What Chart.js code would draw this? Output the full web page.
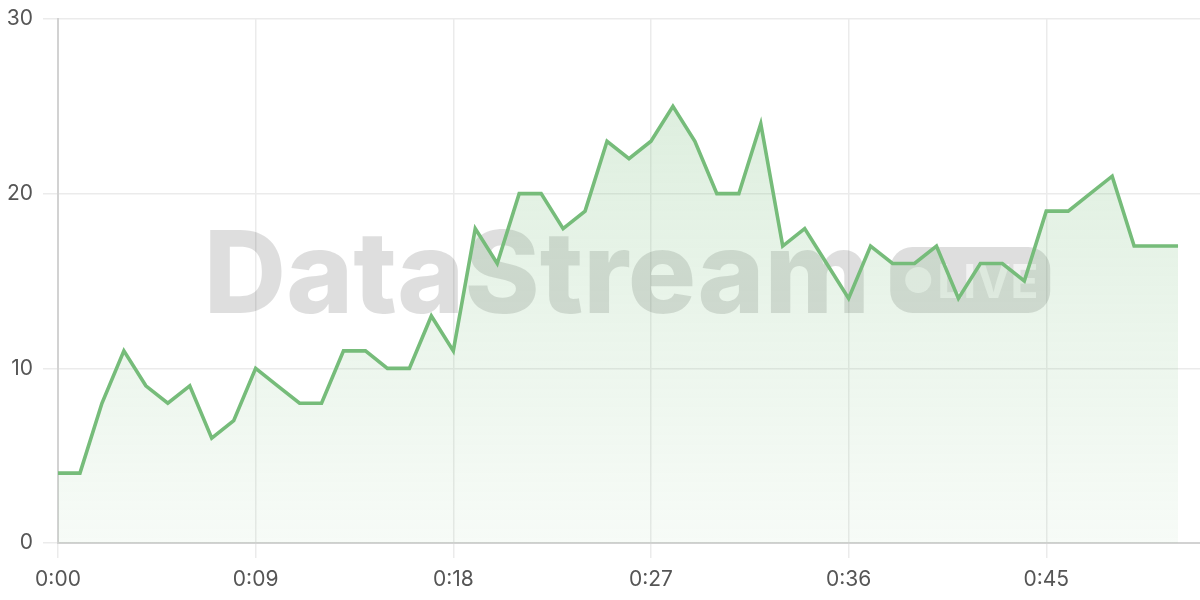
<!DOCTYPE html>
<html>
<head>
<meta charset="utf-8">
<script src="https://cdn.jsdelivr.net/npm/chart.js@4.4.1/dist/chart.umd.min.js"></script>
<style>
  html, body { margin: 0; padding: 0; background: #fff; }
  #wrap { width: 1200px; height: 600px; position: relative; }
</style>
</head>
<body>
<div id="wrap"><canvas id="grafico"></canvas></div>
<script>
// Dados do gráfico (um ponto por unidade de tempo)
const tempos = [];
for (let i = 0; i < 52; i++) tempos.push(i);
const valores = [4, 4, 8, 11, 9, 8, 9, 6, 7, 10, 9, 8, 8, 11, 11, 10, 10, 13, 11, 18,
                 16, 20, 20, 18, 19, 23, 22, 23, 25, 23, 20, 20, 24, 17, 18, 16, 14, 17, 16, 16,
                 17, 14, 16, 16, 15, 19, 19, 20, 21, 17, 17, 17];
const ticksX = [0, 9, 18, 27, 36, 45];
const ticksY = [0, 10, 20, 30];

const corLinha = 'rgb(118, 188, 122)';

function formatarTempo(v) {
    const m = Math.floor(v / 60);
    const s = v % 60;
    return m + ':' + String(s).padStart(2, '0');
}

// Marca d'água "DataStream LIVE" desenhada antes das séries
const marcaDagua = {
    id: 'marcaDagua',
    beforeDatasetsDraw(chart) {
        const { ctx, chartArea } = chart;
        const cx = (chartArea.left + chartArea.right) / 2;
        const base = 313;
        ctx.save();
        ctx.font = '800 114px Inter';
        const larguraTexto = ctx.measureText('DataStream').width;
        const larguraPilula = 160, alturaPilula = 66, espaco = 20;
        const total = larguraTexto + espaco + larguraPilula;
        const x0 = cx - total / 2 - 2;
        ctx.fillStyle = 'rgba(0, 0, 0, 0.13)';
        ctx.textBaseline = 'alphabetic';
        ctx.fillText('DataStream', x0, base);
        // pílula
        const px = x0 + larguraTexto + espaco;
        const py = base - alturaPilula;
        ctx.beginPath();
        ctx.roundRect(px, py, larguraPilula, alturaPilula, 22);
        ctx.fill();
        ctx.fillStyle = 'rgba(255, 255, 255, 0.6)';
        ctx.beginPath();
        ctx.arc(px + 28, py + alturaPilula / 2, 13, 0, Math.PI * 2);
        ctx.fill();
        ctx.font = '700 46px Inter';
        ctx.fillText('LIVE', px + 47, base - 15);
        ctx.restore();
    }
};

const ctx = document.getElementById('grafico');
new Chart(ctx, {
    type: 'line',
    data: {
        labels: tempos,
        datasets: [{
            data: tempos.map((t, i) => ({ x: t, y: valores[i] })),
            borderColor: corLinha,
            borderWidth: 3.6,
            pointRadius: 0,
            tension: 0,
            fill: 'origin',
            backgroundColor(context) {
                const area = context.chart.chartArea;
                if (!area) return 'rgba(118, 188, 122, 0.2)';
                const g = context.chart.ctx.createLinearGradient(0, area.top, 0, area.bottom);
                g.addColorStop(0, 'rgba(118, 188, 122, 0.28)');
                g.addColorStop(1, 'rgba(118, 188, 122, 0.06)');
                return g;
            }
        }]
    },
    options: {
        responsive: true,
        maintainAspectRatio: false,
        animation: false,
        layout: { padding: { top: 19, right: 0, bottom: 0, left: 0 } },
        plugins: {
            legend: { display: false },
            tooltip: { enabled: false }
        },
        scales: {
            x: {
                type: 'linear',
                min: 0,
                max: 52,
                afterBuildTicks(scale) {
                    scale.ticks = ticksX.map(v => ({ value: v }));
                },
                afterFit(scale) { scale.height = 57; },
                grid: { color: '#ebebeb', lineWidth: 1.5, tickLength: 15 },
                border: { color: '#d2d2d2', width: 2 },
                ticks: {
                    color: '#555',
                    font: { family: 'Inter', size: 21 },
                    padding: 9,
                    maxRotation: 0,
                    callback: v => formatarTempo(v)
                }
            },
            y: {
                min: 0,
                max: 30,
                afterBuildTicks(scale) {
                    scale.ticks = ticksY.map(v => ({ value: v }));
                },
                afterFit(scale) {
                    scale.width = 58;
                    scale.paddingTop = 0;
                },
                grid: { color: '#ebebeb', lineWidth: 1.5, tickLength: 15 },
                border: { color: '#d2d2d2', width: 2 },
                ticks: {
                    color: '#555',
                    font: { family: 'Inter', size: 21, lineHeight: 1.0 },
                    padding: 10
                }
            }
        }
    },
    plugins: [marcaDagua]
});
</script>
</body>
</html>
